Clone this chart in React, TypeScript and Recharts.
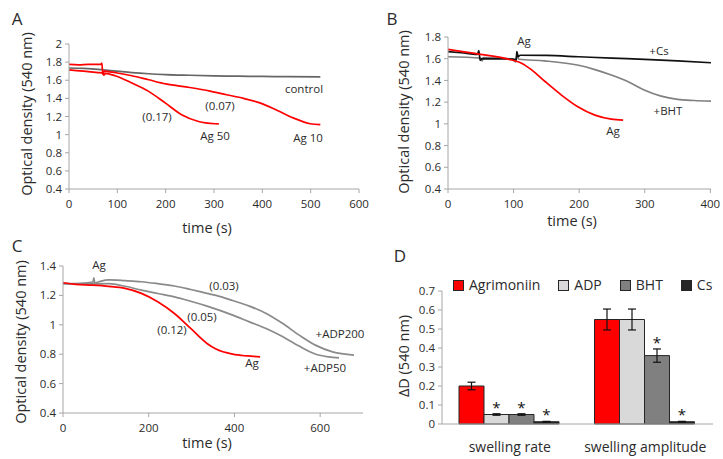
import React from 'react';
import {
  Bar,
  BarChart,
  ErrorBar,
  LabelList,
  Line,
  LineChart,
  XAxis,
  YAxis,
} from 'recharts';

const FONT = '"Open Sans", "Noto Sans", sans-serif';
const RED = '#ff0000';
const AXIS = '#a6a6a6';
const TEXT = '#2b2b2b';

// Panel A: [time (s), optical density]
const controlA = [[0, 1.735], [30, 1.73], [60, 1.72], [70, 1.715], [100, 1.7], [130, 1.685], [165, 1.672], [200, 1.663], [250, 1.655], [300, 1.648], [350, 1.645], [400, 1.642], [450, 1.64], [520, 1.637]];
const ag10A = [[0, 1.775], [20, 1.77], [40, 1.775], [66, 1.775], [68, 1.79], [70, 1.665], [73, 1.7], [80, 1.695], [100, 1.68], [130, 1.65], [165, 1.605], [200, 1.56], [250, 1.52], [292, 1.48], [326, 1.44], [361, 1.4], [395, 1.35], [430, 1.27], [464, 1.185], [499, 1.12], [520, 1.11]];
const ag50A = [[0, 1.715], [30, 1.7], [60, 1.685], [70, 1.68], [72, 1.655], [75, 1.675], [95, 1.65], [130, 1.57], [164, 1.48], [199, 1.35], [233, 1.22], [268, 1.145], [302, 1.12], [310, 1.118]];

// Panel B
const csB = [[0, 1.665], [20, 1.655], [45, 1.64], [47, 1.675], [49, 1.585], [52, 1.6], [75, 1.598], [100, 1.597], [104, 1.59], [105, 1.665], [107, 1.62], [110, 1.632], [150, 1.63], [199, 1.618], [250, 1.605], [300, 1.594], [350, 1.58], [401, 1.563]];
const bhtB = [[0, 1.618], [50, 1.605], [52, 1.58], [54, 1.61], [98, 1.597], [103, 1.57], [105, 1.63], [108, 1.595], [147, 1.58], [199, 1.54], [224, 1.5], [249, 1.45], [274, 1.39], [300, 1.31], [325, 1.255], [350, 1.225], [375, 1.215], [401, 1.21]];
const agB = [[0, 1.686], [47, 1.643], [97, 1.588], [113, 1.557], [128, 1.495], [148, 1.39], [173, 1.265], [198, 1.157], [224, 1.08], [249, 1.043], [267, 1.034]];

// Panel C
const agC = [[0, 1.286], [30, 1.275], [69, 1.27], [107, 1.262], [145, 1.248], [183, 1.214], [221, 1.157], [260, 1.077], [298, 0.975], [336, 0.873], [357, 0.835], [396, 0.8], [430, 0.788], [460, 0.782]];
const adp50C = [[0, 1.28], [50, 1.278], [107, 1.28], [145, 1.262], [183, 1.236], [221, 1.213], [260, 1.19], [298, 1.16], [336, 1.127], [396, 1.066], [435, 1.02], [474, 0.975], [512, 0.92], [551, 0.855], [590, 0.8], [620, 0.782], [644, 0.775]];
const adp200C = [[0, 1.28], [40, 1.282], [70, 1.29], [72, 1.32], [74, 1.285], [84, 1.293], [107, 1.305], [145, 1.3], [183, 1.293], [221, 1.28], [260, 1.264], [298, 1.24], [336, 1.214], [357, 1.2], [396, 1.165], [435, 1.127], [474, 1.077], [512, 1.01], [551, 0.93], [590, 0.86], [629, 0.816], [679, 0.794]];

// Panel D
const categoriesD = ['swelling rate', 'swelling amplitude'];
const seriesD = ['Agrimoniin', 'ADP', 'BHT', 'Cs'];
const colorsD = [RED, '#d9d9d9', '#808080', '#262626'];
const valuesD = [
  [0.2, 0.55],
  [0.05, 0.55],
  [0.05, 0.36],
  [0.012, 0.012],
];
const errorsD = [
  [0.02, 0.055],
  [0.004, 0.055],
  [0.004, 0.035],
  [0.002, 0.002],
];
const starsD = [
  [false, false],
  [true, false],
  [true, true],
  [true, true],
];

const ticksA = [0.4, 0.6, 0.8, 1, 1.2, 1.4, 1.6, 1.8, 2];
const ticksB = [0.4, 0.6, 0.8, 1, 1.2, 1.4, 1.6, 1.8];
const ticksC = [0.4, 0.6, 0.8, 1, 1.2, 1.4];
const ticksD = [0, 0.1, 0.2, 0.3, 0.4, 0.5, 0.6, 0.7];

const toPoints = (pairs: number[][]) => pairs.map(([t, v]) => ({ t, v }));

const tickStyle = { fill: TEXT, fontSize: 11.5, fontFamily: FONT };

const barData = categoriesD.map((name, i) => {
  const row: any = { name };
  seriesD.forEach((s, k) => {
    row[s] = valuesD[k][i];
    row[s + '_err'] = errorsD[k][i];
  });
  return row;
});

function Txt({ x, y, size = 11.5, rotate = 0, children }: any) {
  return (
    <div
      style={{
        position: 'absolute',
        left: x,
        top: y,
        transform: `translate(-50%, -50%) rotate(${rotate}deg)`,
        fontFamily: FONT,
        fontSize: size,
        color: TEXT,
        whiteSpace: 'nowrap',
        lineHeight: 1,
      }}
    >
      {children}
    </div>
  );
}

function LinePanel({ left, top, width, height, margin, yWidth, xHeight, xMax, xTicks, yMin, yMax, yTicks, lines }: any) {
  return (
    <div style={{ position: 'absolute', left, top }}>
      <LineChart width={width} height={height} margin={margin}>
        <XAxis
          type="number"
          dataKey="t"
          domain={[0, xMax]}
          ticks={xTicks}
          height={xHeight}
          stroke={AXIS}
          tickSize={4}
          tickMargin={7}
          tick={tickStyle}
        />
        <YAxis
          type="number"
          dataKey="v"
          domain={[yMin, yMax]}
          ticks={yTicks}
          width={yWidth}
          stroke={AXIS}
          tickSize={4}
          tickMargin={3}
          tick={tickStyle}
        />
        {lines.map((l: any, i: number) => (
          <Line
            key={i}
            data={toPoints(l.data)}
            dataKey="v"
            type="monotone"
            stroke={l.color}
            strokeWidth={1.7}
            dot={false}
            isAnimationActive={false}
          />
        ))}
      </LineChart>
    </div>
  );
}

const starContent = (k: number) => (props: any) => {
  const { x, y, width, height, index, value } = props;
  if (!starsD[k][index]) return null;
  const errPx = value ? (height / value) * errorsD[k][index] : 0;
  return (
    <text
      x={x + width / 2}
      y={y - errPx - 1}
      textAnchor="middle"
      fontSize={15}
      fontFamily={FONT}
      fill="#111"
    >
      *
    </text>
  );
};

export default function App() {
  return (
    <div style={{ position: 'absolute', left: 0, top: 0, width: 723, height: 459, background: '#fff', overflow: 'hidden' }}>
      <LinePanel
        left={0}
        top={0}
        width={380}
        height={230}
        margin={{ top: 44, right: 21, left: 0, bottom: 0 }}
        yWidth={69}
        xHeight={41}
        xMax={600}
        xTicks={[0, 100, 200, 300, 400, 500, 600]}
        yMin={0.4}
        yMax={2}
        yTicks={ticksA}
        lines={[
          { data: controlA, color: '#666666' },
          { data: ag10A, color: RED },
          { data: ag50A, color: RED },
        ]}
      />
      <LinePanel
        left={362}
        top={0}
        width={361}
        height={230}
        margin={{ top: 37, right: 12, left: 0, bottom: 0 }}
        yWidth={86}
        xHeight={41}
        xMax={400}
        xTicks={[0, 100, 200, 300, 400]}
        yMin={0.4}
        yMax={1.8}
        yTicks={ticksB}
        lines={[
          { data: bhtB, color: '#808080' },
          { data: csB, color: '#111111' },
          { data: agB, color: RED },
        ]}
      />
      <LinePanel
        left={0}
        top={230}
        width={380}
        height={229}
        margin={{ top: 36, right: 17, left: 0, bottom: 0 }}
        yWidth={63}
        xHeight={46}
        xMax={700}
        xTicks={[0, 200, 400, 600]}
        yMin={0.4}
        yMax={1.4}
        yTicks={ticksC}
        lines={[
          { data: adp50C, color: '#8a8a8a' },
          { data: adp200C, color: '#8a8a8a' },
          { data: agC, color: RED },
        ]}
      />
      <div style={{ position: 'absolute', left: 362, top: 230 }}>
        <BarChart
          width={361}
          height={229}
          data={barData}
          margin={{ top: 61, right: 10, left: 0, bottom: 0 }}
          barCategoryGap={17}
          barGap={0}
        >
          <XAxis
            dataKey="name"
            height={35}
            stroke={AXIS}
            tickLine={false}
            tickSize={0}
            tickMargin={18}
            tick={{ fill: TEXT, fontSize: 14, fontFamily: FONT }}
          />
          <YAxis
            type="number"
            domain={[0, 0.7]}
            ticks={ticksD}
            width={80}
            stroke={AXIS}
            tickSize={4}
            tickMargin={3}
            tick={tickStyle}
          />
          {seriesD.map((s, k) => (
            <Bar
              key={s}
              dataKey={s}
              fill={colorsD[k]}
              stroke="#262626"
              strokeWidth={1}
              isAnimationActive={false}
            >
              <ErrorBar dataKey={s + '_err'} width={4} stroke="#111" strokeWidth={1.2} />
              <LabelList dataKey={s} content={starContent(k)} />
            </Bar>
          ))}
        </BarChart>
      </div>

      {/* panel letters */}
      <Txt x={17} y={18} size={17}>A</Txt>
      <Txt x={392} y={18} size={17}>B</Txt>
      <Txt x={17} y={245} size={17}>C</Txt>
      <Txt x={400} y={255} size={17}>D</Txt>

      {/* axis titles */}
      <Txt x={27} y={114} size={14.5} rotate={-90}>Optical density (540 nm)</Txt>
      <Txt x={404} y={112} size={14.5} rotate={-90}>Optical density (540 nm)</Txt>
      <Txt x={21} y={342} size={14.5} rotate={-90}>Optical density (540 nm)</Txt>
      <Txt x={404} y={356} size={14.5} rotate={-90}>ΔD (540 nm)</Txt>
      <Txt x={207} y={228} size={14.5}>time (s)</Txt>
      <Txt x={572} y={221} size={14.5}>time (s)</Txt>
      <Txt x={207} y={443} size={14.5}>time (s)</Txt>

      {/* annotations A */}
      <Txt x={304} y={89}>control</Txt>
      <Txt x={220} y={106}>(0.07)</Txt>
      <Txt x={157} y={117}>(0.17)</Txt>
      <Txt x={215} y={136}>Ag 50</Txt>
      <Txt x={308} y={138}>Ag 10</Txt>

      {/* annotations B */}
      <Txt x={524} y={41}>Ag</Txt>
      <Txt x={659} y={51}>+Cs</Txt>
      <Txt x={668} y={111}>+BHT</Txt>
      <Txt x={613} y={131}>Ag</Txt>

      {/* annotations C */}
      <Txt x={99} y={265}>Ag</Txt>
      <Txt x={224} y={286}>(0.03)</Txt>
      <Txt x={202} y={317}>(0.05)</Txt>
      <Txt x={172} y={330}>(0.12)</Txt>
      <Txt x={340} y={334}>+ADP200</Txt>
      <Txt x={325} y={368}>+ADP50</Txt>
      <Txt x={252} y={363}>Ag</Txt>

      {/* legend D */}
      <div style={{ position: 'absolute', left: 453, top: 276, display: 'flex', alignItems: 'center', gap: 18, fontFamily: FONT, fontSize: 14, color: TEXT, lineHeight: '18px' }}>
        {seriesD.map((s, k) => (
          <div key={s} style={{ display: 'flex', alignItems: 'center', gap: 5 }}>
            <span style={{ width: 9, height: 9, background: colorsD[k], border: '1px solid #262626', display: 'inline-block' }} />
            <span>{s}</span>
          </div>
        ))}
      </div>
    </div>
  );
}
